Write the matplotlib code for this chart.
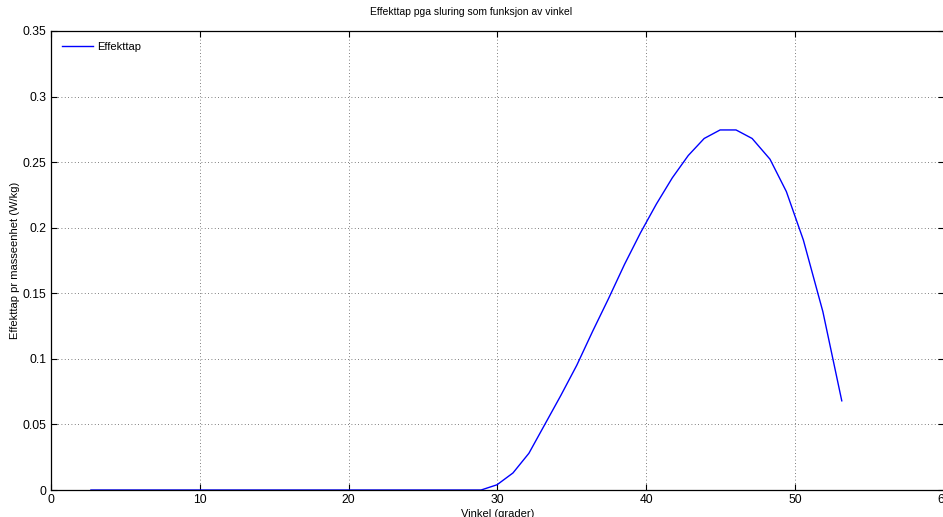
import numpy as np
import matplotlib.pyplot as plt

# angle (degrees) and power loss per unit mass (W/kg)
vinkel = [2.7, 28.9, 29.97, 31.04, 32.11, 33.18, 34.25, 35.32, 36.39, 37.46,
          38.53, 39.6, 40.67, 41.74, 42.81, 43.88, 44.95, 46.02, 47.1, 48.3,
          49.4, 50.54, 51.85, 53.12]
effekttap = [0.0, 0.0, 0.004, 0.013, 0.028, 0.05, 0.072, 0.095, 0.121, 0.146,
             0.172, 0.196, 0.218, 0.238, 0.255, 0.268, 0.2745, 0.2745, 0.268, 0.2522,
             0.2275, 0.1906, 0.136, 0.068]

xticks = [0, 10, 20, 30, 40, 50, 60]
yticks = [0, 0.05, 0.1, 0.15, 0.2, 0.25, 0.3, 0.35]
ytick_labels = ["0", "0.05", "0.1", "0.15", "0.2", "0.25", "0.3", "0.35"]

plt.rcParams['font.family'] = ['Liberation Sans', 'DejaVu Sans']
plt.rcParams['font.size'] = 8

fig = plt.figure(figsize=(9.43, 5.17), dpi=100)
ax = fig.add_axes([0.0538, 0.0522, 0.9475, 0.888])

ax.plot(vinkel, effekttap, color=(0, 0, 1), linewidth=1.0, label="Effekttap")

ax.set_xlim(0, 60)
ax.set_ylim(0, 0.35)
ax.set_xticks(xticks)
ax.set_yticks(yticks)
ax.set_yticklabels(ytick_labels)
ax.tick_params(direction='in', top=True, right=True, length=4, width=0.8, pad=3,
               labelsize=8.7)
ax.grid(True, color='#555555', linestyle=(0, (1, 3)), linewidth=0.6)
for s in ax.spines.values():
    s.set_linewidth(0.9)

# title sits a bit left of the axes centre, as in the original
fig.text(471 / 943, 1 - 12 / 517, "Effekttap pga sluring som funksjon av vinkel",
         fontsize=7.5, ha='center', va='center')
ax.set_xlabel("Vinkel (grader)", fontsize=8, labelpad=2)
ax.set_ylabel("Effekttap pr masseenhet (W/kg)", fontsize=8, labelpad=2)

leg = ax.legend(loc='upper left', frameon=False, fontsize=8, handlelength=2.8,
                borderaxespad=0.6, handletextpad=0.4)

plt.savefig("out.png", dpi=100)
